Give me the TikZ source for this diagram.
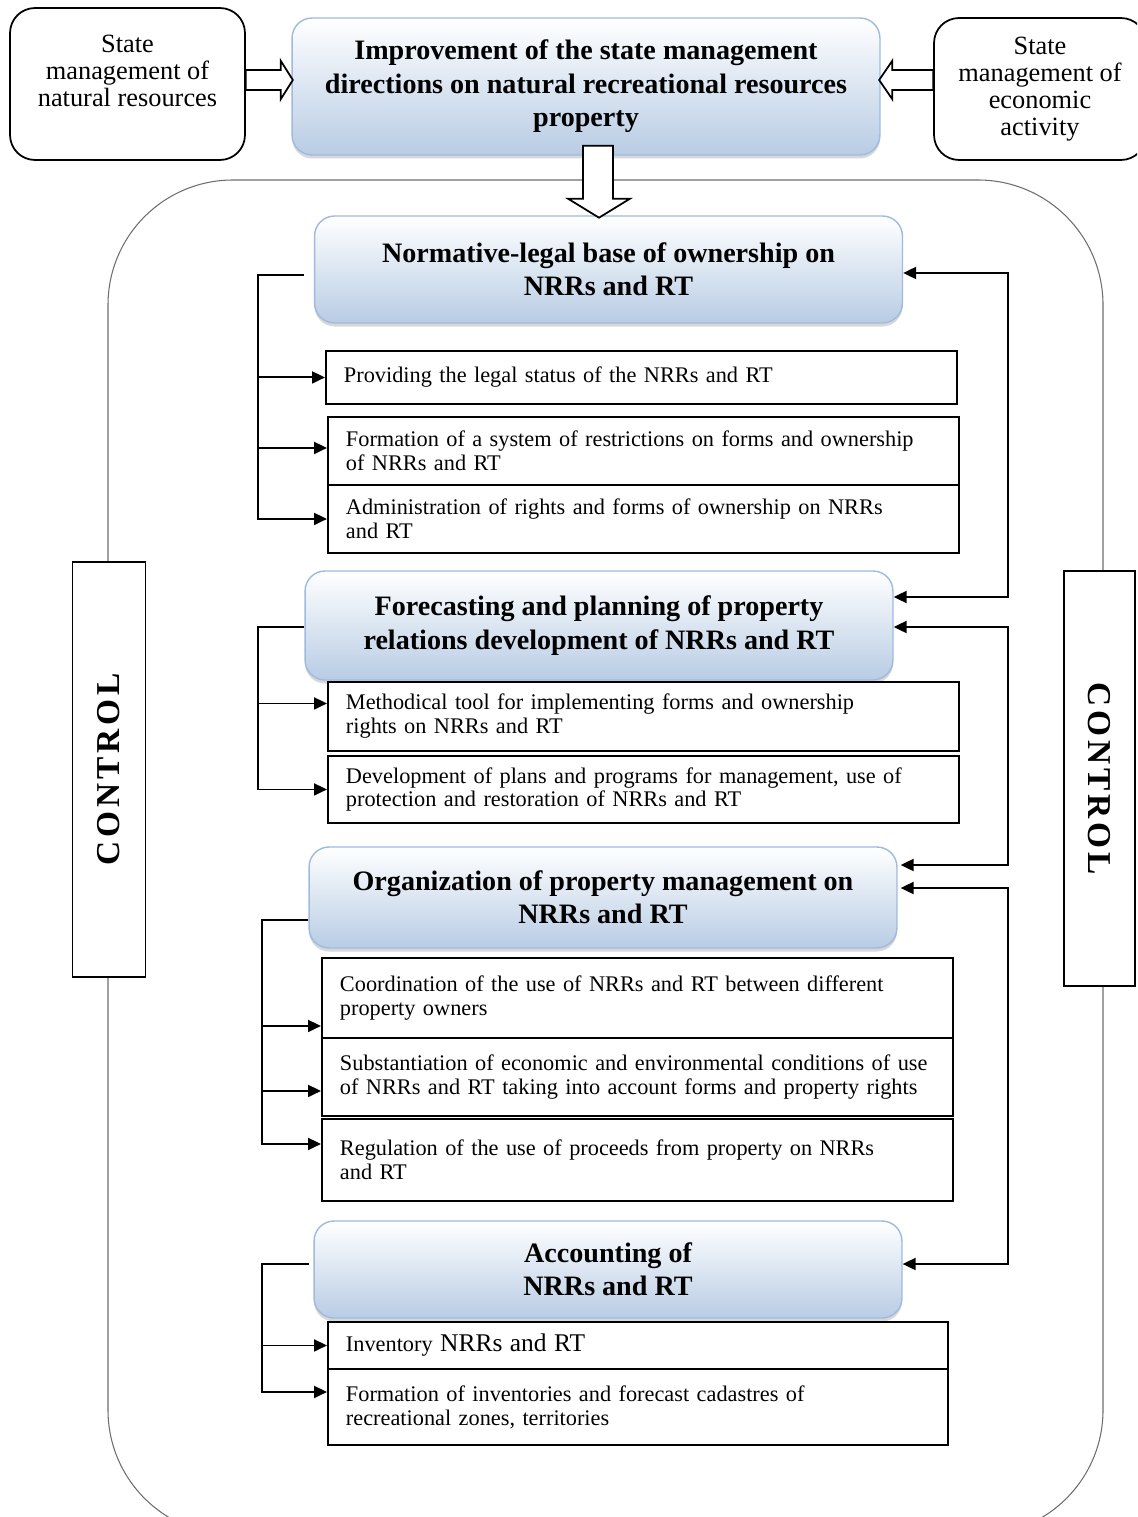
\documentclass[tikz,border=0pt]{standalone}
\usepackage{fontspec}
\setmainfont{Liberation Serif}
\newfontfamily\ctrlfont[LetterSpace=12]{Liberation Serif}
\usetikzlibrary{arrows.meta,calc,shadows}

\definecolor{hdblue}{RGB}{184,204,228}
\definecolor{hdline}{RGB}{158,187,222}
\definecolor{framegray}{RGB}{110,110,110}

\newcommand{\headfont}{\fontsize{16}{19}\selectfont\bfseries}
\newcommand{\itemfont}{\fontsize{12.7}{13.6}\selectfont}
\newcommand{\sidefont}{\fontsize{15}{15.4}\selectfont}

\tikzset{
  heading/.style={draw=hdline, line width=0.8pt, rounded corners=0.4cm, top color=white, bottom color=hdblue,
    font=\headfont, align=center, minimum width=11.76cm, inner sep=2pt,
    drop shadow={shadow xshift=0pt, shadow yshift=-2pt, opacity=0.3}},
  item/.style={draw, line width=1.1pt, fill=white, anchor=north west, font=\itemfont, align=left,
    inner xsep=0.36cm, text width=11.9cm},
  sidebox/.style={draw, line width=1pt, rounded corners=0.5cm, font=\sidefont, align=center},
  ctrl/.style={draw, line width=1pt, fill=white, font={\ctrlfont\fontsize{19}{21}\selectfont\bfseries},
    minimum width=8.3cm, minimum height=1.46cm},
  link/.style={line width=1.1pt},
  arr/.style={-{Triangle[length=0.26cm,width=0.24cm]}},
  arrs/.style={{Triangle[length=0.26cm,width=0.24cm]}-{Triangle[length=0.26cm,width=0.24cm]}},
  fatarrow/.style={draw, line width=1pt, fill=white}
}

\begin{document}
\begin{tikzpicture}[x=0.02cm, y=-0.02cm]
\useasboundingbox (0,0) rectangle (1137,1517);
\fill[white] (0,0) rectangle (1137,1517);
\clip (0,0) rectangle (1137,1517);

\draw[framegray, line width=0.6pt, rounded corners=2.5cm] (108,180) rectangle (1103,1535);

\node[sidebox, minimum width=4.7cm, minimum height=3.04cm] (natres) at (127.5,84) {State\\management of\\natural resources\\~};
\node[heading, minimum height=2.74cm] (improve) at (586,86.5) {Improvement of the state management\\directions on natural recreational resources\\property};
\node[sidebox, minimum width=4.24cm, minimum height=2.84cm] (econ) at (1040,89) {State\\management of\\economic\\activity};

\node[ctrl, rotate=90] (ctrlL) at (109,769.5) {CONTROL};
\node[ctrl, rotate=-90, minimum height=1.42cm] (ctrlR) at (1099.5,778.5) {CONTROL};

\node[heading, minimum height=2.14cm] (norm) at (608.5,269.5) {Normative-legal base of ownership on\\NRRs and RT};
\node[heading, minimum height=2.18cm] (fore) at (599,625.5) {Forecasting and planning of property\\relations development of NRRs and RT};
\node[heading, minimum height=2.02cm] (org) at (603,897.5) {Organization of property management on\\NRRs and RT};
\node[heading, minimum height=1.94cm] (acc) at (608,1269.5) {Accounting of\\NRRs and RT};

\node[item, minimum height=1.06cm] (s11) at (325,350) {Providing the legal status of the NRRs and RT};
\node[item, minimum height=1.36cm] (s12) at (327,416) {Formation of a system of restrictions on forms and ownership\\of NRRs and RT};
\node[item, minimum height=1.36cm] (s13) at (327,484) {Administration of rights and forms of ownership on NRRs\\and RT};
\node[item, minimum height=1.38cm] (s21) at (327,681) {Methodical tool for implementing forms and ownership\\rights on NRRs and RT};
\node[item, minimum height=1.34cm] (s22) at (327,755) {Development of plans and programs for management, use of\\protection and restoration of NRRs and RT};
\node[item, minimum height=1.6cm] (s31) at (321,957) {Coordination of the use of NRRs and RT between different\\property owners};
\node[item, minimum height=1.56cm] (s32) at (321,1037) {Substantiation of economic and environmental conditions of use\\of NRRs and RT taking into account forms and property rights};
\node[item, minimum height=1.64cm] (s33) at (321,1118) {Regulation of the use of proceeds from property on NRRs\\and RT};
\node[item, minimum height=0.94cm, text width=11.68cm] (s41) at (327,1321) {Inventory {\fontsize{14.5}{16}\selectfont NRRs and RT}};
\node[item, minimum height=1.52cm, text width=11.68cm] (s42) at (327,1368) {Formation of inventories and forecast cadastres of\\recreational zones, territories};

\draw[fatarrow] ($(natres.east)+(0,-14)$) -- ++(35,0) -- ++(0,-9) -- ++(12,19) -- ++(-12,19) -- ++(0,-9) -- ++(-35,0) -- cycle;
\draw[fatarrow] ($(econ.west)+(0,-19)$) -- ++(-41,0) -- ++(0,-9) -- ++(-13,19) -- ++(13,19) -- ++(0,-9) -- ++(41,0) -- cycle;
\draw[fatarrow] ($(improve.south)+(-3,-10)$) -- ++(30,0) -- ++(0,53) -- ++(17,0) -- ++(-31,19) -- ++(-31,-19) -- ++(15,0) -- cycle;

\coordinate (g1) at (258,0);
\coordinate (g3) at (262,0);
\coordinate (gr) at (1008,0);

\coordinate (h1) at ($(norm.west)+(-10,5.5)$);
\coordinate (h2) at ($(fore.west)+(0,1.5)$);
\coordinate (h3) at ($(org.west)+(0,22.5)$);
\coordinate (h4) at ($(acc.west)+(-4,-5.5)$);
\coordinate (t11) at (s11.west);
\coordinate (t12) at ($(s12.west)+(0,-3)$);
\coordinate (t13) at (s13.west);
\coordinate (t21) at ($(s21.west)+(0,-13)$);
\coordinate (t22) at (s22.west);
\coordinate (t31) at ($(s31.west)+(0,28)$);
\coordinate (t32) at ($(s32.west)+(0,14)$);
\coordinate (t33) at ($(s33.west)+(0,-16)$);
\coordinate (t41) at (s41.west);
\coordinate (t42) at ($(s42.west)+(0,-15)$);

\draw[link, arr] (h1) -| (g1 |- t13) -- (t13);
\draw[link, arr] (h2) -| (g1 |- t22) -- (t22);
\draw[link, arr] (h3) -| (g3 |- t33) -- (t33);
\draw[link, arr] (h4) -| (g3 |- t42) -- (t42);
\foreach \t in {t11,t12,t21}
  \draw[link, arr] (\t -| g1) -- (\t);
\foreach \t in {t31,t32,t41}
  \draw[link, arr] (\t -| g3) -- (\t);

\coordinate (r1a) at ($(norm.east)+(0,3.5)$);
\coordinate (r1b) at ($(fore.east)+(0,-28.5)$);
\coordinate (r2a) at ($(fore.east)+(0,1.5)$);
\coordinate (r2b) at ($(org.east)+(3,-32.5)$);
\coordinate (r3a) at ($(org.east)+(3,-9.5)$);
\coordinate (r3b) at ($(acc.east)+(0,-5.5)$);
\draw[link, arrs] (r1a) -| (gr |- r1b) -- (r1b);
\draw[link, arrs] (r2a) -| (gr |- r2b) -- (r2b);
\draw[link, arrs] (r3a) -| (gr |- r3b) -- (r3b);
\end{tikzpicture}
\end{document}
